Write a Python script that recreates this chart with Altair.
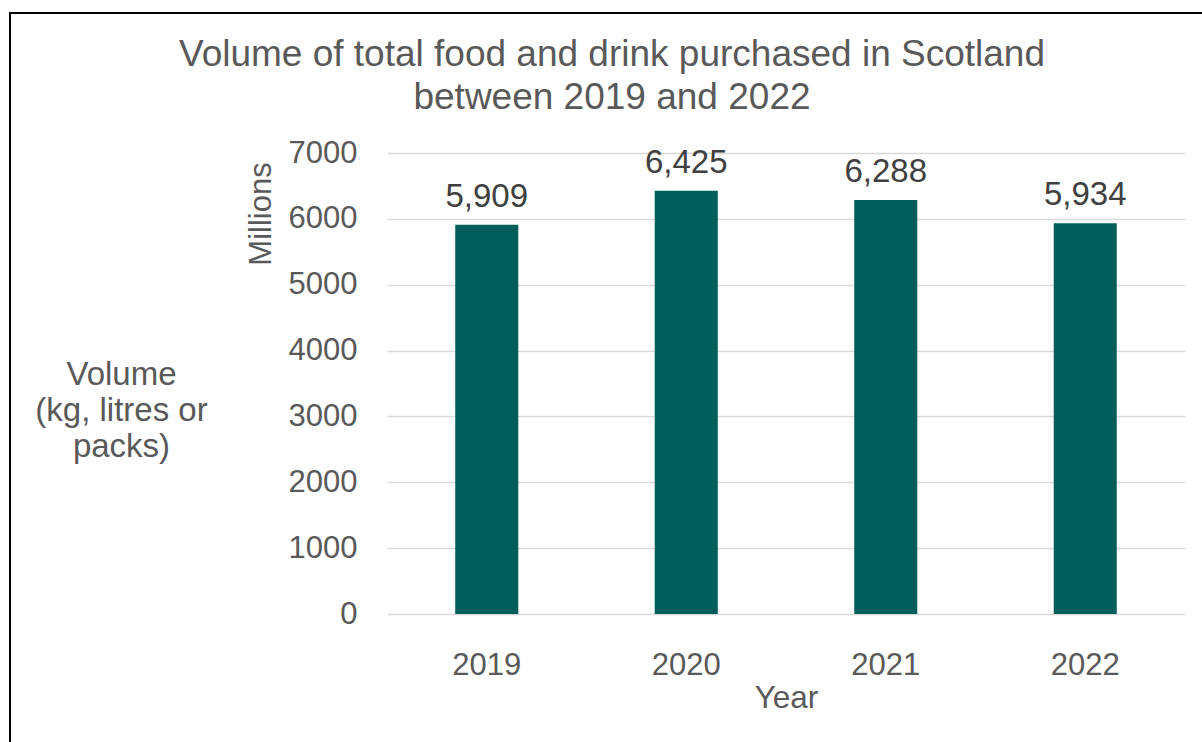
import altair as alt
import pandas as pd

years = ["2019", "2020", "2021", "2022"]
volumes = [5909, 6425, 6288, 5934]
title_lines = ["Volume of total food and drink purchased in Scotland", "between 2019 and 2022"]
y_title_lines = ["Volume", "(kg, litres or", "packs)"]
unit_label = "Millions"
x_title = "Year"
y_ticks = [0, 1000, 2000, 3000, 4000, 5000, 6000, 7000]

FONT = "Liberation Sans"
GREY = "#595959"
W, H = 798, 461
LEFT, TOP = 387, 153

df = pd.DataFrame({"year": years, "volume": volumes})

x_enc = alt.X(
    "year:N",
    sort=years,
    scale=alt.Scale(paddingInner=0.684, paddingOuter=0.342),
    axis=alt.Axis(
        title=x_title, labelAngle=0, ticks=False, domain=False, grid=False,
        labelFontSize=31, labelColor=GREY, labelFont=FONT, labelPadding=36,
        titleFontSize=31.5, titleColor=GREY, titleFont=FONT, titleFontWeight="normal",
        titleBaseline="alphabetic", titleY=93.5,
    ),
)
y_enc = alt.Y(
    "volume:Q",
    scale=alt.Scale(domain=[0, 7000], nice=False),
    axis=alt.Axis(
        values=y_ticks, format="d", ticks=False, domain=False,
        gridColor="#d9d9d9", gridWidth=1.3,
        labelFontSize=31, labelColor=GREY, labelFont=FONT, labelPadding=30,
        title=y_title_lines, titleAngle=0, titleAlign="center", titleBaseline="middle",
        titleX=121 - LEFT, titleY=374 - TOP, titleLineHeight=36,
        titleFontSize=33, titleColor=GREY, titleFont=FONT, titleFontWeight="normal",
    ),
)

base = alt.Chart(df)
bars = base.mark_bar(color="#005E5A").encode(x=x_enc, y=y_enc)
labels = base.mark_text(
    fontSize=33, font=FONT, color="#404040", baseline="alphabetic", dy=-18
).encode(x=alt.X("year:N", sort=years), y="volume:Q", text=alt.Text("volume:Q", format=","))

one = pd.DataFrame({"k": [0]})
title_text = alt.Chart(one).mark_text(
    fontSize=37, font=FONT, color=GREY, align="center", baseline="alphabetic", lineHeight=43
).encode(x=alt.value(612 - LEFT), y=alt.value(66 - TOP), text=alt.value(title_lines))

unit_text = alt.Chart(one).mark_text(
    fontSize=31, font=FONT, color=GREY, align="center", baseline="middle", angle=270
).encode(x=alt.value(262 - LEFT), y=alt.value(214 - TOP), text=alt.value(unit_label))

border = alt.Chart(one).mark_rect(
    fillOpacity=0, stroke="black", strokeWidth=2
).encode(
    x=alt.value(10 - LEFT), y=alt.value(13 - TOP),
    x2=alt.value(1230 - LEFT), y2=alt.value(780 - TOP),
)

chart = alt.layer(bars, labels, title_text, unit_text, border).properties(
    width=W, height=H,
    autosize=alt.AutoSizeParams(type="none"),
    padding={"left": LEFT, "top": TOP, "right": 1202 - LEFT - W, "bottom": 742 - TOP - H},
    background="white",
).configure_view(strokeWidth=0)

chart.save("out.html", embed_options={"renderer": "svg", "actions": False})
